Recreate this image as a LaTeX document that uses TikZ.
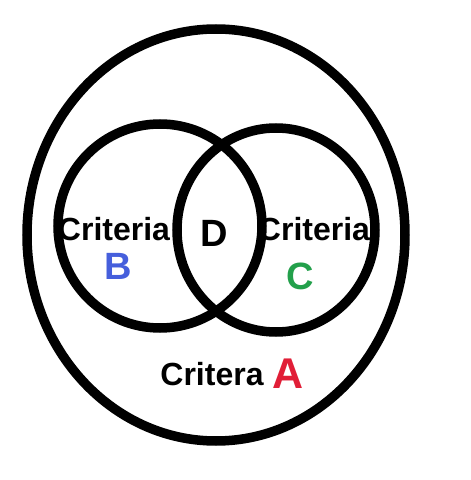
\documentclass[tikz,border=0pt]{standalone}
\usepackage{fontspec}
\setmainfont{Liberation Sans}
\definecolor{bblue}{RGB}{70,95,220}
\definecolor{cgreen}{RGB}{35,160,75}
\definecolor{ared}{RGB}{225,30,55}
\begin{document}
\begin{tikzpicture}[x=1pt,y=1pt,
  ring/.style={draw=black,line width=9.5pt},
  lbl/.style={font=\bfseries\fontsize{32}{32}\selectfont,inner sep=0pt},
  big/.style={font=\bfseries\fontsize{38}{38}\selectfont,inner sep=0pt}]
\useasboundingbox (0,0) rectangle (471,480);
\fill[white] (0,0) rectangle (471,480);
\draw[ring] (216,245) ellipse [x radius=189, y radius=206];
\draw[ring] (160,254) circle [radius=102];
\draw[ring] (276,250) ellipse [x radius=99, y radius=102];
\node[lbl] (cb) at (114,251) {Criteria};
\node[lbl] (cc) at (314,251) {Criteria};
\node[big] (d) at (214,247) {D};
\node[big,text=bblue] (b) at (118,214) {B};
\node[big,text=cgreen] (c) at (300,204) {C};
\node[lbl] (ca) at (212,106) {Critera};
\node[big,text=ared,font=\bfseries\fontsize{43}{43}\selectfont] (a) at (288,106) {A};
\end{tikzpicture}
\end{document}
